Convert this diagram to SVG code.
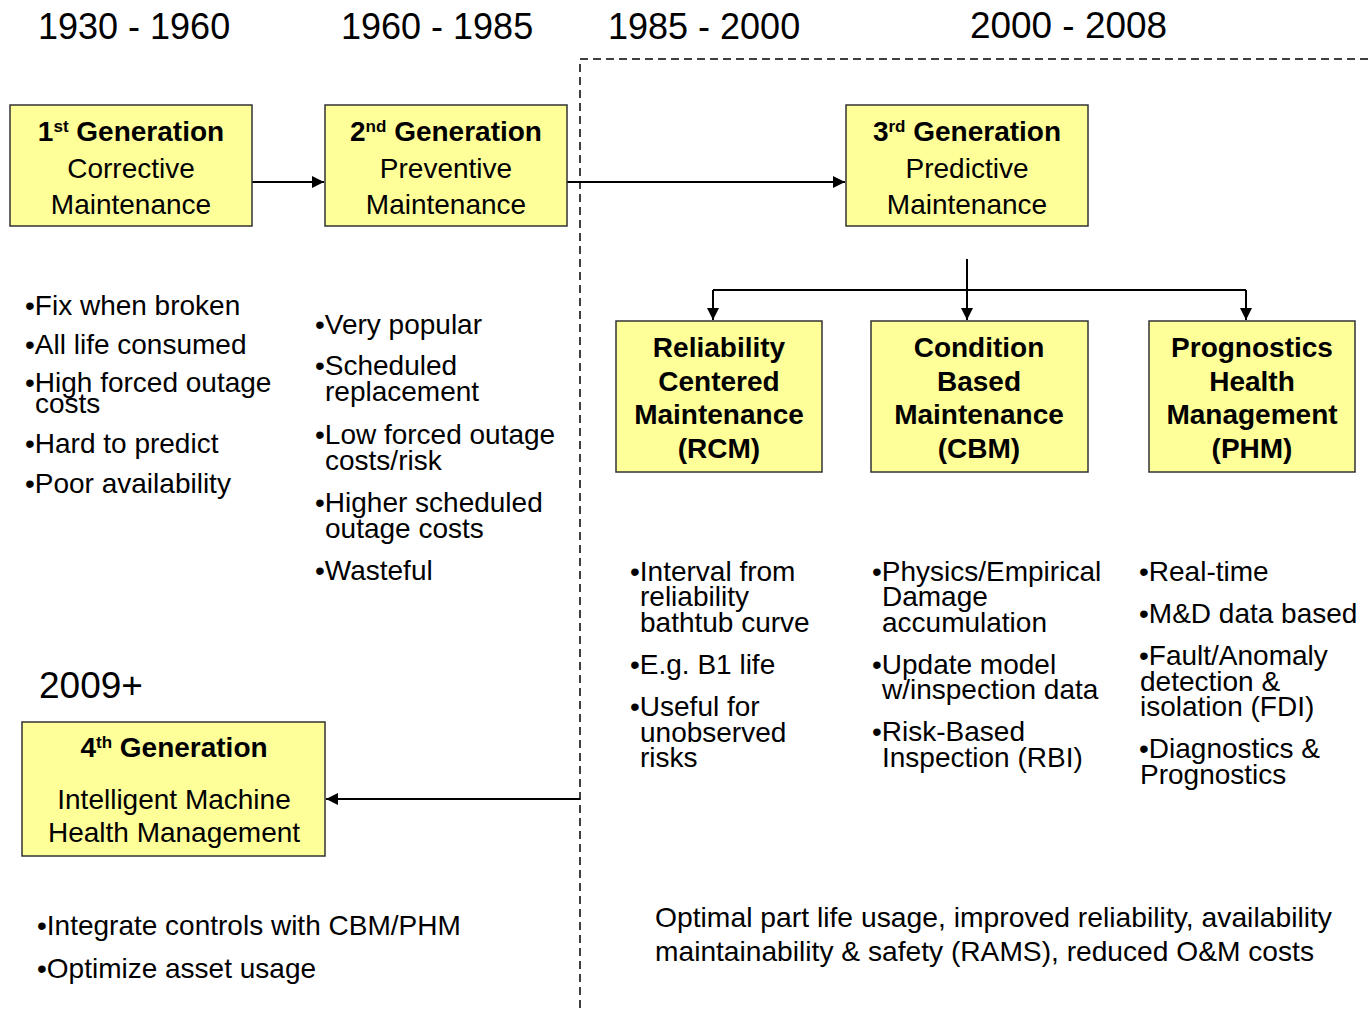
<svg xmlns="http://www.w3.org/2000/svg" width="1370" height="1012" viewBox="0 0 1370 1012">
  <defs>
    <marker id="arrow" viewBox="0 0 10 10" refX="10" refY="5" markerWidth="6" markerHeight="6" markerUnits="strokeWidth" orient="auto">
      <path d="M0,0 L10,5 L0,10 z" fill="#000"/>
    </marker>
    <style>
      text { font-family: "Liberation Sans", Arial, sans-serif; fill: #000; }
      .year { font-size: 36px; }
      .box { fill: #ffff99; stroke: #333; stroke-width: 1.5; }
      .title { font-size: 28px; font-weight: bold; text-anchor: middle; }
      .sub { font-size: 28px; text-anchor: middle; }
      .btitle { font-size: 28px; font-weight: bold; text-anchor: middle; }
      .bul { font-size: 28px; }
      .sup { font-size: 17px; }
      .conn { fill: none; stroke: #000; stroke-width: 2; }
      .divider { fill: none; stroke: #000; stroke-width: 1.5; stroke-dasharray: 8 5; }
    </style>
  </defs>

  <rect width="1370" height="1012" fill="#fff"/>

  <!-- era headings -->
  <g id="years">
    <text class="year" x="38" y="39">1930 - 1960</text>
    <text class="year" x="341" y="39">1960 - 1985</text>
    <text class="year" x="608" y="39">1985 - 2000</text>
    <text class="year" x="970" y="38" textLength="197" lengthAdjust="spacingAndGlyphs">2000 - 2008</text>
    <text class="year" x="39" y="698" style="font-size:37px">2009+</text>
  </g>

  <!-- dashed divider between eras -->
  <path class="divider" d="M580,1008 V59 H1370"/>

  <!-- connectors -->
  <g id="connectors">
    <path class="conn" d="M252,182 H324" marker-end="url(#arrow)"/>
    <path class="conn" d="M567,182 H845" marker-end="url(#arrow)"/>
    <path class="conn" d="M967,259 V320" marker-end="url(#arrow)"/>
    <path class="conn" d="M713,290 H1246"/>
    <path class="conn" d="M713,290 V320" marker-end="url(#arrow)"/>
    <path class="conn" d="M1246,290 V320" marker-end="url(#arrow)"/>
    <path class="conn" d="M580,799 H326" marker-end="url(#arrow)"/>
  </g>

  <!-- generation nodes -->
  <g id="gen1">
    <rect class="box" x="10" y="105" width="242" height="121"/>
    <text class="title" x="131" y="141">1<tspan class="sup" dy="-9">st</tspan><tspan dy="9"> Generation</tspan></text>
    <text class="sub" x="131" y="178">Corrective</text>
    <text class="sub" x="131" y="214">Maintenance</text>
  </g>
  <g id="gen2">
    <rect class="box" x="325" y="105" width="242" height="121"/>
    <text class="title" x="446" y="141">2<tspan class="sup" dy="-9">nd</tspan><tspan dy="9"> Generation</tspan></text>
    <text class="sub" x="446" y="178">Preventive</text>
    <text class="sub" x="446" y="214">Maintenance</text>
  </g>
  <g id="gen3">
    <rect class="box" x="846" y="105" width="242" height="121"/>
    <text class="title" x="967" y="141">3<tspan class="sup" dy="-9">rd</tspan><tspan dy="9"> Generation</tspan></text>
    <text class="sub" x="967" y="178">Predictive</text>
    <text class="sub" x="967" y="214">Maintenance</text>
  </g>
  <g id="gen4">
    <rect class="box" x="22" y="722" width="303" height="134"/>
    <text class="title" x="174" y="757">4<tspan class="sup" dy="-9">th</tspan><tspan dy="9"> Generation</tspan></text>
    <text class="sub" x="174" y="809">Intelligent Machine</text>
    <text class="sub" x="174" y="842">Health Management</text>
  </g>

  <!-- predictive maintenance branches -->
  <g id="rcm">
    <rect class="box" x="616" y="321" width="206" height="151"/>
    <text class="btitle" x="719" y="357">Reliability</text>
    <text class="btitle" x="719" y="391">Centered</text>
    <text class="btitle" x="719" y="424">Maintenance</text>
    <text class="btitle" x="719" y="458">(RCM)</text>
  </g>
  <g id="cbm">
    <rect class="box" x="871" y="321" width="217" height="151"/>
    <text class="btitle" x="979" y="357">Condition</text>
    <text class="btitle" x="979" y="391">Based</text>
    <text class="btitle" x="979" y="424">Maintenance</text>
    <text class="btitle" x="979" y="458">(CBM)</text>
  </g>
  <g id="phm">
    <rect class="box" x="1149" y="321" width="206" height="151"/>
    <text class="btitle" x="1252" y="357">Prognostics</text>
    <text class="btitle" x="1252" y="391">Health</text>
    <text class="btitle" x="1252" y="424">Management</text>
    <text class="btitle" x="1252" y="458">(PHM)</text>
  </g>

  <!-- characteristics lists -->
  <g id="notes-gen1">
    <text class="bul" x="25" y="315">•Fix when broken</text>
    <text class="bul" x="25" y="354">•All life consumed</text>
    <text class="bul" x="25" y="392">•High forced outage</text>
    <text class="bul" x="35" y="413">costs</text>
    <text class="bul" x="25" y="453">•Hard to predict</text>
    <text class="bul" x="25" y="493">•Poor availability</text>
  </g>
  <g id="notes-gen2">
    <text class="bul" x="315" y="334">•Very popular</text>
    <text class="bul" x="315" y="375">•Scheduled</text>
    <text class="bul" x="325" y="401">replacement</text>
    <text class="bul" x="315" y="444">•Low forced outage</text>
    <text class="bul" x="325" y="470">costs/risk</text>
    <text class="bul" x="315" y="512">•Higher scheduled</text>
    <text class="bul" x="325" y="538">outage costs</text>
    <text class="bul" x="315" y="580">•Wasteful</text>
  </g>
  <g id="notes-rcm">
    <text class="bul" x="630" y="581">•Interval from</text>
    <text class="bul" x="640" y="606">reliability</text>
    <text class="bul" x="640" y="632">bathtub curve</text>
    <text class="bul" x="630" y="674">•E.g. B1 life</text>
    <text class="bul" x="630" y="716">•Useful for</text>
    <text class="bul" x="640" y="742">unobserved</text>
    <text class="bul" x="640" y="767">risks</text>
  </g>
  <g id="notes-cbm">
    <text class="bul" x="872" y="581">•Physics/Empirical</text>
    <text class="bul" x="882" y="606">Damage</text>
    <text class="bul" x="882" y="632">accumulation</text>
    <text class="bul" x="872" y="674">•Update model</text>
    <text class="bul" x="882" y="699">w/inspection data</text>
    <text class="bul" x="872" y="741">•Risk-Based</text>
    <text class="bul" x="882" y="767">Inspection (RBI)</text>
  </g>
  <g id="notes-phm">
    <text class="bul" x="1139" y="581">•Real-time</text>
    <text class="bul" x="1139" y="623">•M&amp;D data based</text>
    <text class="bul" x="1139" y="665">•Fault/Anomaly</text>
    <text class="bul" x="1140" y="691">detection &amp;</text>
    <text class="bul" x="1140" y="716">isolation (FDI)</text>
    <text class="bul" x="1139" y="758">•Diagnostics &amp;</text>
    <text class="bul" x="1140" y="784">Prognostics</text>
  </g>
  <g id="notes-gen4">
    <text class="bul" x="37" y="935">•Integrate controls with CBM/PHM</text>
    <text class="bul" x="37" y="978">•Optimize asset usage</text>
  </g>
  <g id="benefits">
    <text class="bul" x="655" y="927" textLength="677" lengthAdjust="spacingAndGlyphs">Optimal part life usage, improved reliability, availability</text>
    <text class="bul" x="655" y="961" textLength="659" lengthAdjust="spacingAndGlyphs">maintainability &amp; safety (RAMS), reduced O&amp;M costs</text>
  </g>
</svg>
